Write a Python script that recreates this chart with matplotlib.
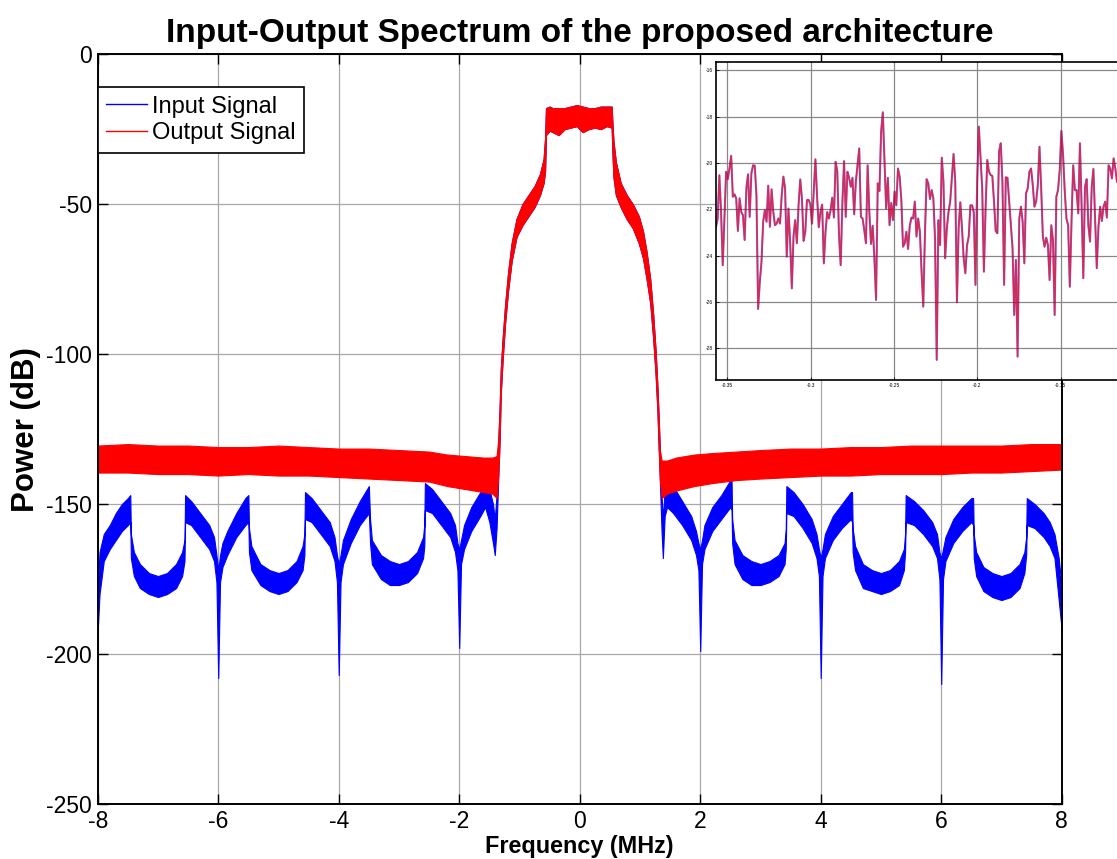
import numpy as np
import matplotlib
matplotlib.use('Agg')
import matplotlib.pyplot as plt

plt.rcParams['font.family'] = ['Liberation Sans', 'DejaVu Sans']
plt.rcParams['axes.unicode_minus'] = False

# ---- main plot data: spectra drawn as noisy bands (upper / lower envelope, dB) ----

# input signal, left side-lobes (MHz, upper dB, lower dB)
in_left_f = [-8.00, -7.97, -7.90, -7.80, -7.70, -7.60, -7.50, -7.46, -7.45, -7.40, -7.30, -7.15,
             -7.00, -6.85, -6.70, -6.60, -6.56, -6.55, -6.45, -6.30, -6.15, -6.07, -6.03, -6.00,
             -5.97, -5.93, -5.85, -5.70, -5.55, -5.50, -5.49, -5.45, -5.30, -5.15, -5.00, -4.85,
             -4.70, -4.60, -4.57, -4.56, -4.45, -4.30, -4.15, -4.07, -4.03, -4.00, -3.97, -3.93,
             -3.80, -3.65, -3.50, -3.48, -3.45, -3.30, -3.15, -3.00, -2.85, -2.70, -2.60, -2.58,
             -2.57, -2.45, -2.30, -2.15, -2.07, -2.03, -2.00, -1.97, -1.92, -1.80, -1.65, -1.57,
             -1.50, -1.44, -1.41, -1.38]
in_left_hi = [-178, -166, -160, -157, -153, -150, -148, -147, -160, -166, -170, -173,
              -174, -173, -170, -166, -162, -147, -149, -153, -157, -161, -167, -172,
              -167, -163, -159, -153, -148, -147, -158, -164, -170, -172, -173, -172,
              -169, -164, -160, -146, -148, -152, -156, -161, -167, -170, -167, -162,
              -155, -149, -144, -155, -162, -167, -169, -170, -169, -166, -161, -157,
              -143, -145, -149, -153, -157, -163, -165, -162, -157, -151, -146, -143,
              -145, -150, -155, -147]
in_left_lo = [-192, -180, -169, -165, -162, -159, -157, -156, -168, -174, -178, -180,
              -181, -180, -178, -174, -169, -156, -157, -161, -165, -169, -176, -208,
              -176, -171, -167, -161, -157, -156, -166, -172, -177, -179, -180, -179,
              -176, -172, -167, -155, -156, -160, -164, -169, -176, -207, -176, -170,
              -163, -157, -153, -163, -170, -175, -177, -177, -176, -173, -168, -164,
              -152, -153, -157, -161, -166, -172, -198, -170, -165, -159, -154, -151,
              -156, -163, -167, -158]

# input signal, right side-lobes
in_right_f = [1.36, 1.38, 1.41, 1.45, 1.55, 1.70, 1.85, 1.93, 1.97, 2.00, 2.03, 2.07,
              2.20, 2.35, 2.50, 2.52, 2.53, 2.57, 2.70, 2.85, 3.00, 3.15, 3.30, 3.40,
              3.42, 3.43, 3.55, 3.70, 3.85, 3.93, 3.97, 4.00, 4.03, 4.07, 4.20, 4.35,
              4.50, 4.52, 4.53, 4.57, 4.70, 4.85, 5.00, 5.15, 5.30, 5.38, 5.40, 5.41,
              5.55, 5.70, 5.85, 5.93, 5.97, 6.00, 6.03, 6.07, 6.20, 6.35, 6.50, 6.53,
              6.54, 6.58, 6.70, 6.85, 7.00, 7.15, 7.30, 7.38, 7.41, 7.42, 7.55, 7.70,
              7.80, 7.88, 7.95, 8.00]
in_right_hi = [-148, -155, -145, -142, -144, -149, -154, -159, -163, -165, -162, -157,
               -151, -147, -142, -142, -155, -162, -167, -169, -170, -169, -167, -163,
               -158, -144, -146, -150, -155, -160, -165, -168, -165, -160, -154, -150,
               -146, -146, -158, -164, -170, -172, -173, -172, -169, -165, -160, -147,
               -149, -152, -156, -160, -166, -168, -165, -161, -155, -151, -148, -148,
               -160, -166, -171, -173, -174, -173, -170, -166, -161, -148, -150, -153,
               -156, -160, -168, -178]
in_right_lo = [-160, -168, -154, -151, -153, -157, -162, -167, -172, -199, -170, -165,
               -159, -155, -151, -152, -163, -170, -175, -177, -177, -176, -174, -170,
               -165, -153, -154, -158, -163, -168, -174, -208, -174, -168, -162, -158,
               -155, -156, -166, -172, -178, -179, -180, -179, -177, -172, -166, -156,
               -157, -160, -164, -168, -175, -210, -175, -169, -163, -159, -156, -157,
               -168, -174, -179, -181, -182, -181, -178, -173, -167, -157, -158, -161,
               -164, -168, -182, -192]

# main lobe, common to input and output
lobe_f = [-1.35, -1.33, -1.31, -1.28, -1.24, -1.19, -1.13, -1.05, -0.95, -0.85, -0.75, -0.66,
          -0.60, -0.575, -0.56, -0.50, -0.45, -0.35, -0.25, -0.15, -0.05, 0.05, 0.15, 0.25,
          0.35, 0.45, 0.53, 0.545, 0.56, 0.60, 0.68, 0.78, 0.88, 0.98, 1.05, 1.11,
          1.17, 1.22, 1.26, 1.29, 1.31, 1.33]
lobe_hi = [-128, -118, -105, -95, -84, -73, -63, -55, -50, -47, -44, -40,
           -35, -28, -18, -17.5, -18, -18, -18, -17.5, -17, -17.5, -18, -18,
           -17.5, -17.5, -17.5, -24, -29, -36, -43, -47, -50, -54, -59, -66,
           -75, -87, -99, -111, -121, -132]
lobe_lo = [-140, -129, -113, -102, -90, -79, -69, -61, -57, -54, -51, -47,
           -43, -39, -27, -25.5, -26, -27, -25, -24.5, -24, -26, -25, -24.5,
           -25, -24, -24.5, -34, -41, -47, -51, -55, -58, -63, -68, -75,
           -83, -95, -107, -119, -131, -142]

# output signal noise floor, left and right of the main lobe
out_left_f = [-8.0, -7.5, -7.0, -6.5, -6.0, -5.5, -5.0, -4.5, -4.0, -3.5, -3.0, -2.5,
              -2.2, -1.9, -1.6, -1.45, -1.38]
out_left_hi = [-130.5, -130, -130.5, -130.5, -131, -131, -130.5, -131, -131.5, -131.5, -132, -132.5,
               -133.5, -134, -134.5, -134.5, -134]
out_left_lo = [-139.5, -139.5, -140, -140, -140.5, -140, -140.5, -140.5, -141, -141.5, -142, -142.5,
               -144, -145, -146, -146.5, -148]
out_right_f = [1.36, 1.45, 1.6, 1.9, 2.2, 2.6, 3.0, 3.5, 4.0, 4.5, 5.0, 5.5,
               6.0, 6.5, 7.0, 7.5, 8.0]
out_right_hi = [-135.5, -135.5, -134.5, -133.5, -133, -132.5, -132, -131.5, -131.5, -131, -131, -130.5,
                -130.5, -130.5, -130.5, -130, -130]
out_right_lo = [-148, -146.5, -145.5, -144, -143, -142, -141.5, -141, -140.5, -140.5, -140, -140,
                -140, -139.5, -139.5, -139, -138.5]

# ---- inset (zoom on the pass band, -0.357 .. -0.116 MHz), dB ----
zoom_db = [-22.76, -22.40, -20.53, -22.12, -24.42, -22.40, -20.38, -20.70, -20.24, -19.69,
           -21.46, -21.36, -21.53, -22.94, -21.53, -22.12, -22.26, -23.33, -21.10, -20.49,
           -22.33, -20.45, -20.10, -20.12, -21.39, -26.31, -25.13, -24.27, -22.54, -22.04,
           -22.54, -20.98, -22.76, -21.14, -22.12, -22.69, -22.62, -22.40, -22.62, -21.39,
           -20.59, -21.10, -24.05, -21.97, -23.40, -25.42, -23.18, -22.47, -23.47, -21.83,
           -20.71, -21.53, -23.37, -22.97, -21.60, -21.60, -21.79, -22.62, -21.24, -19.84,
           -21.46, -22.78, -22.12, -21.80, -24.34, -22.97, -22.12, -22.40, -22.04, -21.50,
           -22.36, -19.95, -20.38, -23.11, -24.42, -21.75, -19.92, -22.33, -20.38, -20.64,
           -21.03, -20.64, -22.22, -20.81, -20.10, -19.37, -22.33, -22.40, -22.90, -23.47,
           -20.10, -22.12, -23.50, -22.71, -24.12, -25.92, -20.88, -21.21, -18.65, -17.81,
           -19.95, -21.97, -20.64, -22.69, -21.73, -22.47, -21.24, -21.83, -20.24, -20.59,
           -21.60, -23.62, -23.47, -22.97, -23.72, -22.72, -22.36, -22.40, -21.67, -23.18,
           -22.40, -22.97, -24.70, -26.21, -23.11, -20.70, -20.88, -21.56, -21.17, -21.53,
           -23.26, -28.51, -22.47, -23.55, -19.77, -20.81, -24.12, -22.83, -22.12, -21.67,
           -20.67, -19.61, -20.81, -26.02, -22.83, -21.70, -22.83, -24.12, -24.77, -23.55,
           -23.18, -21.83, -21.83, -22.13, -25.27, -20.81, -18.43, -19.73, -21.10, -24.70,
           -21.97, -19.87, -20.38, -20.52, -20.56, -21.67, -22.94, -23.04, -19.51, -19.15,
           -20.81, -25.27, -20.62, -20.64, -21.67, -22.69, -23.69, -26.57, -24.19, -28.37,
           -22.40, -21.89, -22.54, -24.34, -21.31, -21.10, -20.38, -20.24, -20.95, -21.89,
           -21.67, -20.95, -19.30, -21.10, -23.18, -23.62, -23.23, -23.55, -25.06, -22.69,
           -23.33, -26.57, -21.46, -21.17, -20.31, -18.62, -19.66, -21.24, -22.40, -22.69,
           -25.35, -22.54, -20.10, -21.17, -21.17, -22.18, -19.15, -21.89, -24.98, -21.03,
           -20.70, -22.69, -23.40, -21.03, -20.26, -22.40, -24.55, -22.76, -21.89, -22.51,
           -21.89, -21.67, -22.36, -20.10, -20.24, -20.67, -19.80, -20.24, -20.81]
zoom_f = np.linspace(-0.3568, -0.1162, len(zoom_db))

in_f = np.concatenate([in_left_f, lobe_f, in_right_f])
in_hi = np.concatenate([in_left_hi, lobe_hi, in_right_hi])
in_lo = np.concatenate([in_left_lo, lobe_lo, in_right_lo])
out_f = np.concatenate([out_left_f, lobe_f, out_right_f])
out_hi = np.concatenate([out_left_hi, lobe_hi, out_right_hi])
out_lo = np.concatenate([out_left_lo, lobe_lo, out_right_lo])

fig = plt.figure(figsize=(11.17, 8.59), dpi=100)
ax = fig.add_axes([0.0875, 0.064, 0.863, 0.873])

ax.fill_between(in_f, in_lo, in_hi, color='#0000FF', lw=0.8)
ax.fill_between(out_f, out_lo, out_hi, color='#FF0000', lw=0.8)
ax.plot([], [], color='#0000FF', lw=1, label='Input Signal')
ax.plot([], [], color='#FF0000', lw=1, label='Output Signal')

ax.set_xlim(-8, 8)
ax.set_ylim(-250, 0)
ax.set_xticks(np.arange(-8, 9, 2))
ax.set_yticks(np.arange(-250, 1, 50))
ax.grid(True, color='#a8a8a8', lw=0.9)
ax.set_axisbelow(True)
ax.tick_params(direction='in', length=7, width=1, top=True, right=True, labelsize=16.5, pad=4)
for sp in ax.spines.values():
    sp.set_linewidth(1.4)

ax.set_title('Input-Output Spectrum of the proposed architecture', fontsize=24,
             fontweight='bold', pad=9)
ax.set_xlabel('Frequency (MHz)', fontsize=16.8, fontweight='bold', labelpad=2)
ax.set_ylabel('Power (dB)', fontsize=22.5, fontweight='bold', labelpad=4)

leg = ax.legend(loc='upper left', bbox_to_anchor=(0, 0.9556), borderaxespad=0,
                fontsize=17, fancybox=False, framealpha=1, edgecolor='black',
                handlelength=1.75, handletextpad=0.2, labelspacing=0.2, borderpad=0.35)
leg.get_frame().set_linewidth(1.2)

# inset with the zoomed pass band
ins = fig.add_axes([716 / 1117, (859 - 380) / 859, 428 / 1117, 317.7 / 859])
ins.plot(zoom_f, zoom_db, color='#0000FF', lw=1.5, alpha=0.5)
ins.plot(zoom_f, zoom_db, color='#FF0000', lw=1.2, alpha=0.65)
ins.set_xlim(-0.3568, -0.1)
ins.set_ylim(-29.38, -15.65)
ins.set_xticks([-0.35, -0.3, -0.25, -0.2, -0.15])
ins.set_xticklabels(['-0.35', '-0.3', '-0.25', '-0.2', '-0.15'])
ins.set_yticks([-28, -26, -24, -22, -20, -18, -16])
ins.grid(True, color='#888888', lw=0.9)
ins.set_axisbelow(True)
ins.tick_params(direction='in', length=2, width=0.6, labelsize=3.5, pad=2)
for sp in ins.spines.values():
    sp.set_linewidth(1.2)

fig.savefig('out.png', dpi=100)
